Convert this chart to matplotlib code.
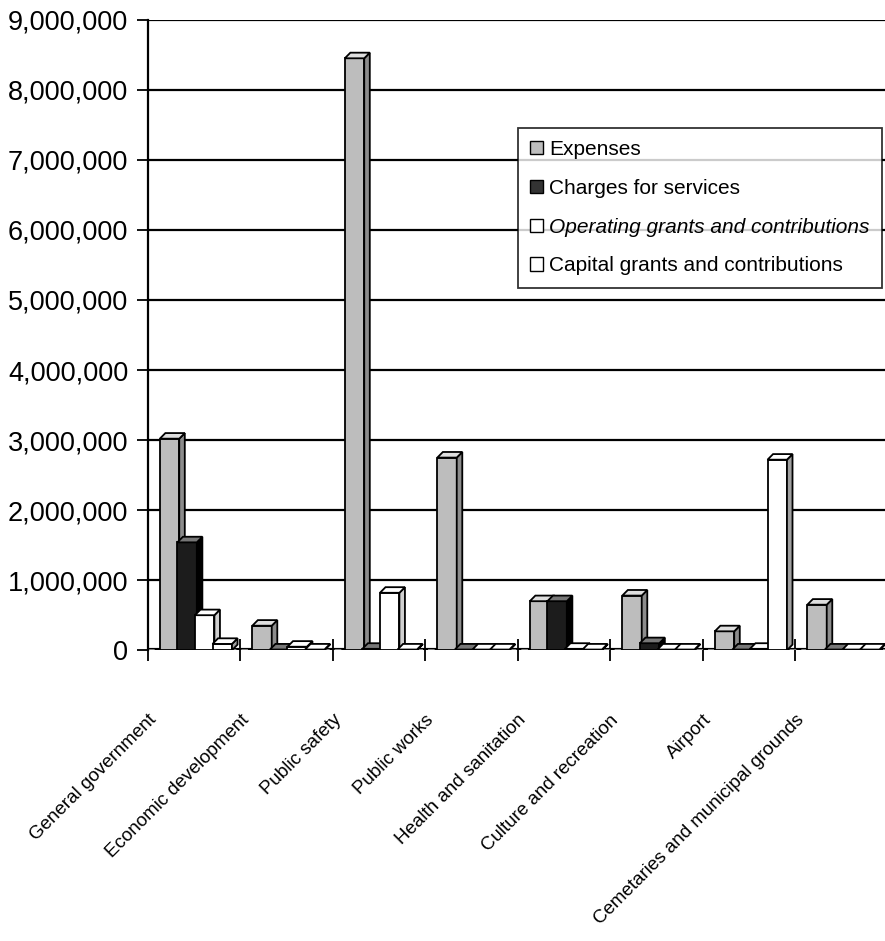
import matplotlib
matplotlib.use("Agg")
import matplotlib.pyplot as plt
from matplotlib.patches import Polygon, Patch
from matplotlib.ticker import FuncFormatter
import numpy as np

# program revenues by function
categories = ["General government", "Economic development", "Public safety",
              "Public works", "Health and sanitation", "Culture and recreation",
              "Airport", "Cemetaries and municipal grounds"]
series = ["Expenses", "Charges for services",
          "Operating grants and contributions", "Capital grants and contributions"]

expenses = [3020000, 350000, 8450000, 2750000, 700000, 780000, 270000, 650000]
charges = [1540000, 10000, 20000, 10000, 700000, 100000, 10000, 10000]
operating = [500000, 50000, 820000, 10000, 20000, 10000, 20000, 10000]
capital = [90000, 10000, 10000, 10000, 10000, 10000, 2720000, 10000]

values = [expenses, charges, operating, capital]

# front / side / top shades for each series
front = ["#bdbdbd", "#1c1c1c", "#ffffff", "#ffffff"]
side = ["#8c8c8c", "#000000", "#d0d0d0", "#a0a0a0"]
top = ["#dedede", "#777777", "#ffffff", "#ffffff"]

yticks = np.arange(0, 9000001, 1000000)

plt.rcParams["font.family"] = ["Liberation Sans", "DejaVu Sans"]

fig = plt.figure(figsize=(8.85, 9.41), dpi=100)
ax = fig.add_axes([0.167, 0.309, 0.833, 0.67])

offsets = [0.13, 0.32, 0.51, 0.70]
width = 0.21
dx, dy = 0.06, 80000

x = np.arange(len(categories))
for s in range(len(series)):
    for i in range(len(categories)):
        x0 = x[i] + offsets[s]
        h = values[s][i]
        ax.bar(x0, h, width, align="edge", color=front[s], edgecolor="black",
               linewidth=1.3, zorder=3)
        sd = Polygon([(x0 + width, 0), (x0 + width + dx, dy),
                      (x0 + width + dx, h + dy), (x0 + width, h)],
                     closed=True, facecolor=side[s], edgecolor="black",
                     linewidth=1.3, zorder=3)
        tp = Polygon([(x0, h), (x0 + dx, h + dy), (x0 + width + dx, h + dy),
                      (x0 + width, h)], closed=True, facecolor=top[s],
                     edgecolor="black", linewidth=1.3, zorder=3)
        ax.add_patch(sd)
        ax.add_patch(tp)

# floor of the chart
ax.axhline(0, color="black", linewidth=3, zorder=2)
ax.axhline(0, color="#999999", linewidth=1.2, linestyle=(0, (4, 3)), zorder=2)

ax.set_xlim(0, len(categories) - 0.03)
ax.set_ylim(0, 9000000)
ax.set_yticks(yticks)
ax.yaxis.set_major_formatter(FuncFormatter(lambda v, p: f"{int(v):,}"))
ax.tick_params(axis="y", direction="out", length=8, width=1.3, labelsize=19.5,
               pad=6)
ax.grid(axis="y", color="black", linewidth=1.6, zorder=1)

ax.set_xticks(x)
ax.set_xticklabels(categories, rotation=45, ha="right", rotation_mode="anchor",
                   fontsize=13.5)
ax.tick_params(axis="x", direction="inout", length=16, width=1.3, pad=36)

for sp in ["top", "right"]:
    ax.spines[sp].set_visible(False)
ax.spines["bottom"].set_visible(False)
ax.spines["left"].set_linewidth(1.6)

handles = [Patch(facecolor=front[0], edgecolor="black"),
           Patch(facecolor="#333333", edgecolor="black"),
           Patch(facecolor="white", edgecolor="black"),
           Patch(facecolor="white", edgecolor="black")]
leg = ax.legend(handles, series, loc="upper left", bbox_to_anchor=(0.502, 0.829),
                fontsize=15, frameon=True, fancybox=False, edgecolor="black",
                handlelength=0.6, handleheight=0.6, handletextpad=0.3,
                labelspacing=0.95, borderpad=0.6, borderaxespad=0)
leg.get_frame().set_linewidth(1.3)
leg.get_texts()[2].set_style("italic")
leg.set_zorder(5)

fig.savefig("out.png", dpi=100)
